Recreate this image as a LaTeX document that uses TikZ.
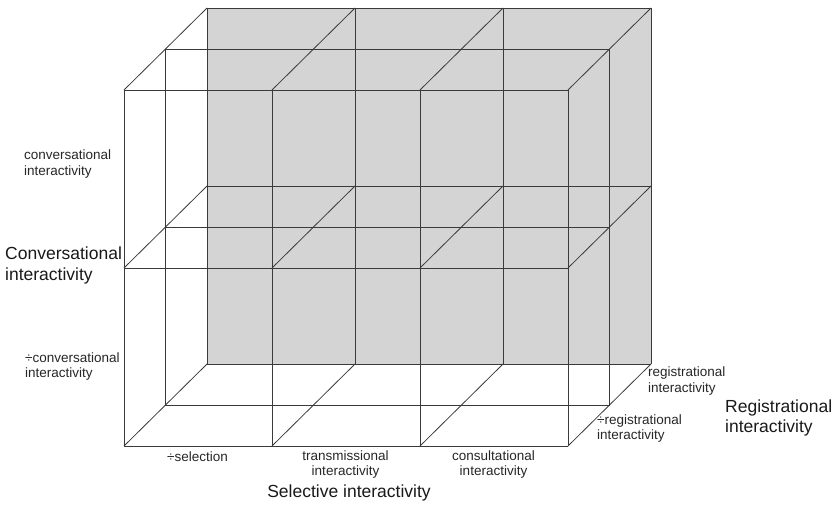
\documentclass[tikz,border=0pt]{standalone}
\usepackage{fontspec}
\setmainfont{Liberation Sans}
\definecolor{wallgray}{HTML}{D4D4D4}
\definecolor{linegray}{HTML}{3A3A3A}
\tikzset{
  gridline/.style={draw=linegray, line width=0.8pt},
  smalllabel/.style={inner sep=0pt, align=left, font=\fontsize{13.5}{15.5}\selectfont, text=black!85},
  smallcenter/.style={inner sep=0pt, align=center, font=\fontsize{13.5}{15.5}\selectfont, text=black!85},
  biglabel/.style={inner sep=0pt, align=left, font=\fontsize{17.5}{20.5}\selectfont, text=black!90},
}
\begin{document}
\begin{tikzpicture}[x=1pt,y=-1pt]
\useasboundingbox (0,0) rectangle (837,504);
% grid corner coordinates: F front, M middle, B back
\foreach \i/\x in {0/124,1/272,2/420,3/568}{
  \foreach \j/\y in {0/90,1/268,2/446}{
    \coordinate (F\i\j) at (\x,\y);
    \coordinate (M\i\j) at (\x+41.5,\y-41);
    \coordinate (B\i\j) at (\x+83,\y-82);
  }
}
% back wall
\fill[wallgray] (B00) rectangle (B32);
\foreach \i in {0,1,2,3}{ \draw[gridline] (B\i0) -- (B\i2); }
\foreach \j in {0,1,2}{ \draw[gridline] (B0\j) -- (B3\j); }
% middle plane
\draw[gridline] (M00) rectangle (M32);
\draw[gridline] (M01) -- (M31);
% depth lines
\foreach \i in {0,1,2,3}{
  \foreach \j in {0,1,2}{ \draw[gridline] (F\i\j) -- (B\i\j); }
}
% front face
\foreach \i in {0,1,2,3}{ \draw[gridline] (F\i0) -- (F\i2); }
\foreach \j in {0,1,2}{ \draw[gridline] (F0\j) -- (F3\j); }
% labels
\node[smalllabel, anchor=west] (convhi) at (24,164) {conversational\\interactivity};
\node[biglabel, anchor=west] (convaxis) at (5,265.5) {Conversational\\interactivity};
\node[smalllabel, anchor=west] (convlo) at (25,366.5) {÷conversational\\interactivity};
\node[smallcenter, anchor=center] (sel) at (197.5,457) {÷selection};
\node[smallcenter, anchor=center] (trans) at (345.5,464.5) {transmissional\\interactivity};
\node[smallcenter, anchor=center] (cons) at (493.5,464.5) {consultational\\interactivity};
\node[biglabel, anchor=center] (selaxis) at (349,493) {Selective interactivity};
\node[smalllabel, anchor=west] (reghi) at (648,381) {registrational\\interactivity};
\node[smalllabel, anchor=west] (reglo) at (597,428.5) {÷registrational\\interactivity};
\node[biglabel, anchor=west] (regaxis) at (725,418) {Registrational\\interactivity};
\end{tikzpicture}
\end{document}
